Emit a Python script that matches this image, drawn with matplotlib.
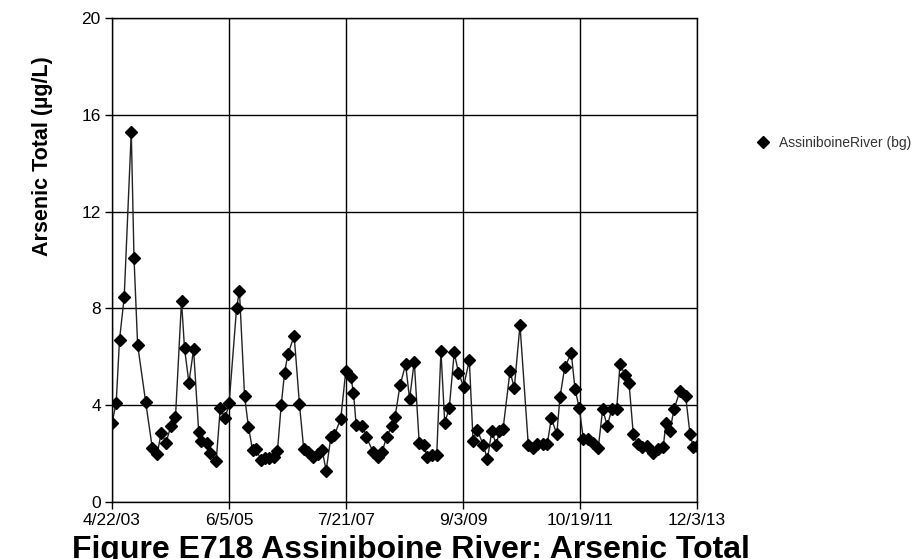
import numpy as np
import pandas as pd
import matplotlib
matplotlib.use('Agg')
import matplotlib.pyplot as plt
import matplotlib.dates as mdates
from matplotlib.lines import Line2D

plt.rcParams['font.family'] = ['Liberation Sans', 'DejaVu Sans']

# sample dates as days after the first sample
start = pd.Timestamp('2003-04-22')
end = pd.Timestamp('2013-12-03')
day_offsets = [0, 28, 50, 81, 128, 146, 170, 223, 267, 300, 327, 358, 391, 421,
               461, 481, 510, 541, 575, 592, 629, 651, 691, 718, 751, 777, 826,
               845, 879, 905, 932, 956, 987, 1016, 1042, 1071, 1097, 1122, 1144,
               1166, 1208, 1243, 1271, 1301, 1334, 1367, 1393, 1420, 1451, 1475,
               1517, 1550, 1584, 1601, 1619, 1660, 1685, 1733, 1766, 1791, 1822,
               1854, 1877, 1910, 1947, 1973, 2004, 2037, 2067, 2089, 2120, 2153,
               2181, 2206, 2236, 2269, 2297, 2331, 2369, 2394, 2420, 2462, 2489,
               2518, 2548, 2568, 2593, 2639, 2667, 2705, 2760, 2792, 2821, 2855,
               2886, 2913, 2949, 2970, 3002, 3045, 3070, 3098, 3125, 3158, 3187,
               3224, 3253, 3284, 3313, 3346, 3368, 3401, 3428, 3456, 3485, 3516,
               3545, 3589, 3622, 3655, 3673, 3699, 3726, 3766, 3803, 3832, 3855,
               3878]
arsenic = [3.25, 4.10, 6.70, 8.45, 15.30, 10.10, 6.50, 4.15, 2.25, 2.00, 2.86,
           2.45, 3.14, 3.50, 8.30, 6.35, 4.93, 6.30, 2.90, 2.53, 2.45, 2.04,
           1.70, 3.87, 3.46, 4.10, 8.00, 8.73, 4.38, 3.09, 2.15, 2.20, 1.74,
           1.80, 1.83, 1.87, 2.10, 4.00, 5.32, 6.10, 6.86, 4.04, 2.20, 2.07,
           1.87, 2.00, 2.15, 1.30, 2.67, 2.77, 3.44, 5.41, 5.15, 4.52, 3.18,
           3.14, 2.70, 2.05, 1.87, 2.08, 2.70, 3.12, 3.53, 4.83, 5.68, 4.25,
           5.80, 2.42, 2.36, 1.87, 1.94, 1.94, 6.24, 3.28, 3.87, 6.18, 5.34,
           4.77, 5.85, 2.54, 2.99, 2.36, 1.76, 2.93, 2.36, 2.92, 3.03, 5.41,
           4.70, 7.31, 2.36, 2.22, 2.40, 2.40, 2.41, 3.46, 2.80, 4.32, 5.58,
           6.14, 4.66, 3.87, 2.62, 2.59, 2.45, 2.24, 3.83, 3.14, 3.83, 3.83,
           5.70, 5.25, 4.90, 2.81, 2.40, 2.29, 2.31, 2.01, 2.18, 2.29, 3.28,
           2.93, 3.83, 4.60, 4.38, 2.81, 2.26, 2.31]
series_name = 'AssiniboineRiver (bg)'
x_tick_labels = ['4/22/03', '6/5/05', '7/21/07', '9/3/09', '10/19/11', '12/3/13']
y_ticks = [0, 4, 8, 12, 16, 20]

dates = start + pd.to_timedelta(day_offsets, unit='D')

fig = plt.figure(figsize=(9.14, 5.59), dpi=100)
ax = fig.add_axes([0.1225, 0.102, 0.640, 0.866])

ax.plot(dates, arsenic, color='#222222', linewidth=1.0, marker='D',
        markersize=6.5, markerfacecolor='black', markeredgecolor='black')

tick_pos = pd.date_range(start, end, periods=len(x_tick_labels))
ax.set_xlim(mdates.date2num(start), mdates.date2num(end))
ax.set_xticks(mdates.date2num(tick_pos))
ax.set_xticklabels(x_tick_labels)
ax.set_ylim(0, 20)
ax.set_yticks(y_ticks)

ax.grid(True, color='black', linewidth=1.0)
for s in ax.spines.values():
    s.set_color('black')
    s.set_linewidth(1.0)
ax.tick_params(axis='both', direction='out', length=5, width=1.0,
               labelsize=12.5, colors='black', pad=3)

fig.text(0.046, 0.72, 'Arsenic Total (\u00b5g/L)', rotation=90, ha='center',
         va='center', fontsize=15.5, fontweight='bold')

# legend shows only the marker, like the original
handle = Line2D([], [], linestyle='none', marker='D', color='black', markersize=6)
ax.legend([handle], [series_name], loc='center left', bbox_to_anchor=(1.082, 0.742),
          frameon=False, fontsize=10, handlelength=0.8, handletextpad=0.75,
          labelcolor='#333333')

fig.text(0.079, 1 - 535 / 559, 'Figure E718 Assiniboine River: Arsenic Total',
         ha='left', va='top', fontsize=23, fontweight='bold')

fig.savefig('out.png', dpi=100)
